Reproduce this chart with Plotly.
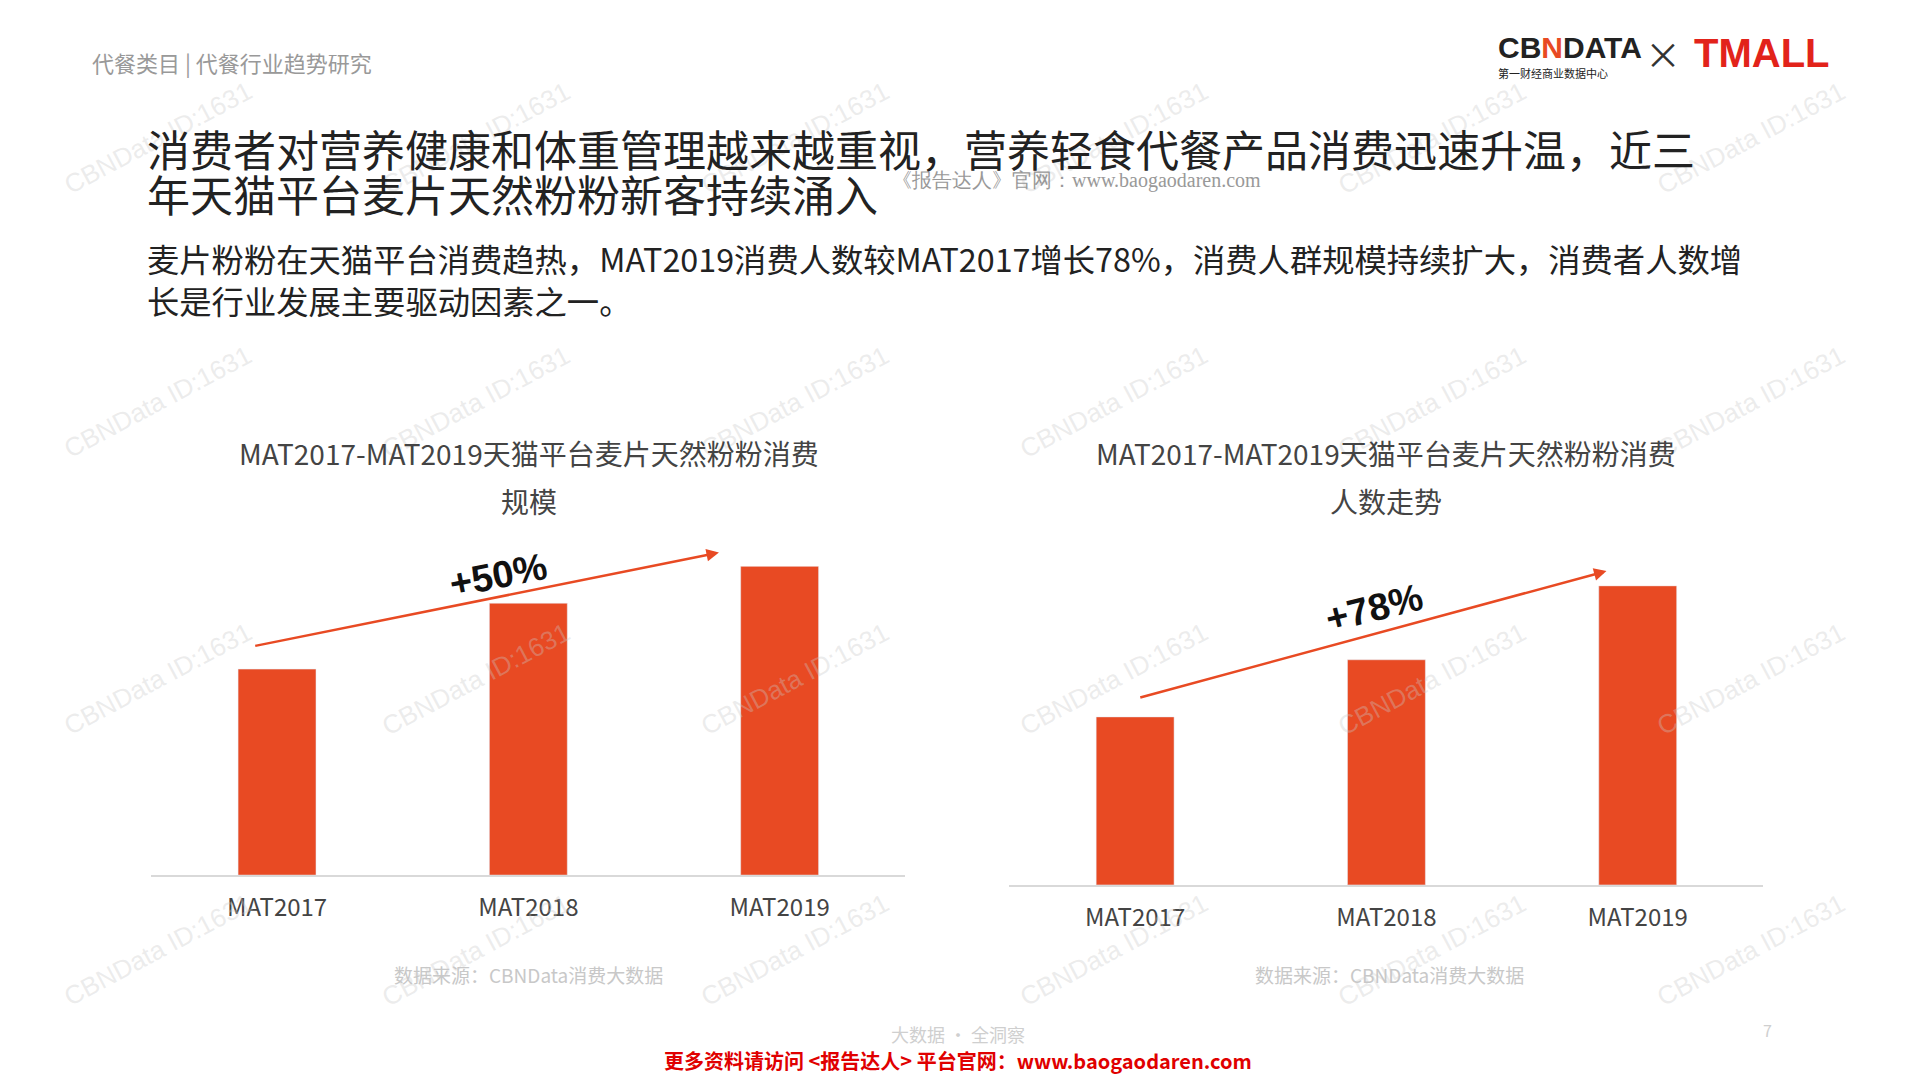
import plotly.graph_objects as go

categories = ["MAT2017", "MAT2018", "MAT2019"]
scale_values = [100, 132, 150]
people_values = [100, 134, 178]

RW, RH = 1560, 877.5
S = 1920 / RW
def px(x): return (x * 0.996 - 8) / RW
def py(y): return 1 - (y - 9.5) / RH

FONT = "Noto Sans CJK SC"
RED = "#e84a23"
fig = go.Figure()
fig.add_trace(go.Bar(x=categories, y=scale_values, marker_color=RED, width=0.31, xaxis="x", yaxis="y", showlegend=False))
fig.add_trace(go.Bar(x=categories, y=people_values, marker_color=RED, width=0.31, xaxis="x2", yaxis="y2", showlegend=False))

axx = dict(showline=True, linecolor="#d9d9d9", linewidth=2, tickfont=dict(size=24, color="#444"), ticks="",
           ticklabelstandoff=10, showgrid=False, fixedrange=True)
axy = dict(visible=False, showgrid=False, zeroline=False)
fig.update_layout(
    autosize=True, margin=dict(l=0, r=0, t=0, b=0), plot_bgcolor="white", paper_bgcolor="white",
    font=dict(family=FONT),
    xaxis=dict(domain=[px(125), px(740)], range=[-0.5, 2.5], anchor="y", **axx),
    yaxis=dict(domain=[py(714), py(463)], range=[0, 150], **axy),
    xaxis2=dict(domain=[px(825), px(1440)], range=[-0.5, 2.5], anchor="y2", **axx),
    yaxis2=dict(domain=[py(722), py(479)], range=[0, 178], **axy),
)

def txt(x, y, t, size, color, xanchor="left", angle=0, family=FONT):
    fig.add_annotation(x=px(x), y=py(y), xref="paper", yref="paper", text=t, showarrow=False,
                       xanchor=xanchor, yanchor="middle", textangle=angle,
                       font=dict(size=size, color=color, family=family))

# watermarks
for wx in [130, 390, 650, 910, 1170, 1430]:
    for wy in [115, 330, 555, 775]:
        txt(wx, wy, "CBNData ID:1631", 26, "rgba(200,200,200,0.35)", "center", -28, "Arial")

txt(75, 53, "代餐类目 | 代餐行业趋势研究", 22, "#999")
txt(1222, 42, "<b>CB<span style='color:#e84a23'>N</span>DATA</b>", 30, "#222", family="Arial")
txt(1222, 62, "第一财经商业数据中心", 11, "#222")
txt(1358, 46, "×", 36, "#333", "center")
txt(1382, 46, "<b>TMALL</b>", 40, "#e2231a", family="Arial")
txt(120, 123, "消费者对营养健康和体重管理越来越重视，营养轻食代餐产品消费迅速升温，近三", 43, "#222")
txt(120, 160, "年天猫平台麦片天然粉粉新客持续涌入", 43, "#222")
txt(880, 150, "《报告达人》官网：www.baogaodaren.com", 20, "#999", "center", family="Liberation Serif")
txt(120, 213, "麦片粉粉在天猫平台消费趋热，MAT2019消费人数较MAT2017增长78%，消费人群规模持续扩大，消费者人数增", 32.3, "#222")
txt(120, 247, "长是行业发展主要驱动因素之一。", 32.3, "#222")

txt(433, 371, "MAT2017-MAT2019天猫平台麦片天然粉粉消费", 28, "#444", "center")
txt(433, 410, "规模", 28, "#444", "center")
txt(1132, 371, "MAT2017-MAT2019天猫平台麦片天然粉粉消费", 28, "#444", "center")
txt(1132, 410, "人数走势", 28, "#444", "center")

for (x0, y0, x1, y1) in [(210, 528, 588, 452), (932, 570, 1312, 467)]:
    fig.add_annotation(x=px(x1), y=py(y1), ax=(x0 - x1) * S, ay=(y0 - y1) * S, xref="paper", yref="paper",
                       axref="pixel", ayref="pixel", showarrow=True, arrowhead=2, arrowsize=1,
                       arrowwidth=2.5, arrowcolor=RED, text="")
txt(408, 470, "<b>+50%</b>", 38, "#111", "center", -11, "Arial")
txt(1122, 497, "<b>+78%</b>", 38, "#111", "center", -14, "Arial")

txt(433, 795, "数据来源：CBNData消费大数据", 19, "#c8c8c8", "center")
txt(1135, 795, "数据来源：CBNData消费大数据", 19, "#c8c8c8", "center")
txt(783, 843, "大数据 · 全洞察", 18, "#cfcfcf", "center")
txt(1443, 840, "7", 16, "#cfcfcf", "center")
txt(783, 865, "<b>更多资料请访问 <报告达人> 平台官网：www.baogaodaren.com</b>", 20, "#e00000", "center")

fig.write_html("out.html", default_width="100vw", default_height="100vh")
